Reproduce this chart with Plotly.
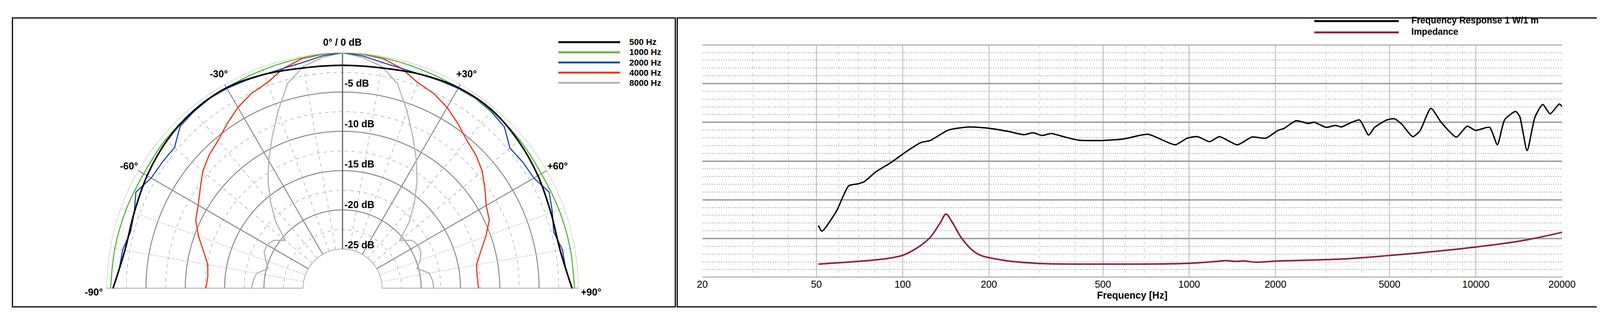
import plotly.graph_objects as go

# ---------------- data ----------------
ang10 = [-90, -80, -70, -60, -50, -40, -30, -20, -10, 0, 10, 20, 30, 40, 50, 60, 70, 80, 90]
ang5 = list(range(-90, 95, 5))
db_500 = [-0.8, -1.9, -1.8, -1.3, -0.8, -0.5, -0.5, -1.0, -1.5, -1.6, -1.5, -1.0, -0.5, -0.4, -0.8, -1.3, -1.8, -1.9, -0.8]
db_1000 = [-0.5, -0.6, -0.7, -0.8, -0.6, -0.5, -0.5, -0.4, -0.2, 0.0, -0.2, -0.4, -0.5, -0.5, -0.6, -0.8, -0.7, -0.6, -0.5]
db_2000 = [-0.8, -1.5, -1.6, -2.1, -1.8, -1.0, -1.9, -2.0, -2.1, -0.8, -0.6, -0.5, -0.6, -0.8, -1.0, -1.0, -0.8, -0.3, 0.0,
           -0.3, -0.8, -1.0, -1.0, -0.8, -0.6, -0.5, -0.6, -0.9, -2.2, -2.0, -1.9, -1.0, -1.6, -2.2, -1.6, -1.5, -0.8]
db_4000 = [-12.6, -12.8, -12.6, -11.7, -10.5, -9.4, -8.8, -7.9, -6.8, -6.0, -5.4, -4.4, -3.4, -2.6, -2.1, -1.0, -0.3, -0.1, 0.0,
           -0.1, -0.3, -1.0, -2.1, -2.6, -3.4, -4.4, -5.4, -6.0, -6.8, -7.9, -8.9, -9.4, -10.6, -11.8, -12.7, -12.8, -12.7]
db_8000 = [-18.4, -18.6, -18.9, -20.2, -19.6, -19.0, -18.9, -19.3, -20.5, -18.0, -15.8, -13.5, -11.2, -8.8, -6.0, -3.0, -1.3, -0.5, 0.0,
           -0.5, -1.3, -3.0, -6.0, -8.8, -11.2, -13.5, -15.8, -18.0, -20.5, -19.3, -18.9, -19.0, -19.5, -20.2, -18.8, -18.5, -18.4]
polar_names = ["500 Hz", "1000 Hz", "2000 Hz", "4000 Hz", "8000 Hz"]
polar_colors = ["#000000", "#5cb847", "#1f4fa8", "#f0321e", "#b4b4b4"]

fr_freq = [50.8, 52.3, 58.8, 64.8, 69.7, 73.2, 80.6, 91, 102.8, 116, 124.8, 144.5, 171, 203, 235, 265, 285, 307, 330, 364,
           410, 499, 590, 718, 893, 984, 1069, 1178, 1274, 1473, 1655, 1851, 2039, 2140, 2362, 2602, 2730, 3008, 3236, 3398,
           3567, 3930, 4226, 4437, 4888, 5206, 5518, 6025, 6385, 6970, 7570, 8550, 9330, 9985, 11170, 11890, 12620, 13770,
           14230, 15100, 16080, 17130, 18170, 19550, 20000]
fr_spl = [13.4, 11.9, 17.1, 23.6, 24.1, 24.6, 27.2, 29.6, 32.4, 34.8, 35.3, 38.0, 38.8, 38.4, 37.6, 36.8, 37.3, 36.6, 37.1, 36.3,
          35.4, 35.3, 35.7, 36.9, 34.2, 35.9, 36.3, 35.0, 36.3, 34.2, 36.2, 35.9, 37.9, 38.4, 40.4, 39.7, 40.0, 38.7, 39.2, 38.8,
          39.5, 40.6, 36.7, 38.7, 40.6, 40.9, 39.5, 36.3, 37.8, 43.6, 40.0, 36.2, 39.0, 37.9, 38.7, 34.2, 40.7, 42.8,
          41.5, 32.7, 41.3, 44.6, 42.2, 44.7, 44.1]
imp_freq = [50.8, 69.7, 87.6, 100.4, 113, 124.8, 135.6, 141.6, 149, 161.7, 182, 220, 292, 470, 1000, 1253, 1347, 1447, 1554,
            1710, 2055, 3398, 4960, 7036, 10000, 14650, 20000]
imp_val = [3.4, 4.1, 4.8, 5.7, 7.7, 10.3, 14.2, 16.3, 14.2, 9.8, 6.1, 4.5, 3.6, 3.4, 3.6, 4.1, 4.3, 4.1, 4.2,
           3.9, 4.2, 4.7, 5.6, 6.6, 7.8, 9.5, 11.6]
x_ticks = [20, 50, 100, 200, 500, 1000, 2000, 5000, 10000, 20000]
x_minor = [30, 40, 60, 70, 80, 90, 300, 400, 600, 700, 800, 900, 3000, 4000, 6000, 7000, 8000, 9000]
ring_db = [-22.5, -20, -17.5, -15, -12.5, -10, -7.5, -5, -2.5]
spoke_deg = [-80, -70, -60, -50, -40, -30, -20, -10, 10, 20, 30, 40, 50, 60, 70, 80]

W, H = 4185, 812
FONT = "Liberation Sans"
fig = go.Figure()

# polar grid
arc = list(range(-90, 91, 2))
for r in ring_db:
    solid = (r % 5 == 0)
    fig.add_trace(go.Scatterpolar(r=[r] * len(arc), theta=arc, mode="lines", showlegend=False, hoverinfo="skip",
                                  line=dict(color="#8a8a8a" if solid else "#a8a8a8", width=2.5 if solid else 1.4,
                                            dash="solid" if solid else "dash")))
for r, c, w in [(0, "#9a9a9a", 1.5), (-25, "#8a8a8a", 2.5)]:
    fig.add_trace(go.Scatterpolar(r=[r] * len(arc), theta=arc, mode="lines", showlegend=False, hoverinfo="skip",
                                  line=dict(color=c, width=w)))
for a in spoke_deg:
    if abs(a) in (30, 60):
        st = dict(color="#8a8a8a", width=2.5, dash="solid")
    elif abs(a) in (70, 80):
        st = dict(color="#a8a8a8", width=1.4, dash="dot")
    else:
        st = dict(color="#a8a8a8", width=1.4, dash="dash")
    fig.add_trace(go.Scatterpolar(r=[-25, 0], theta=[a, a], mode="lines", showlegend=False, hoverinfo="skip", line=st))
for a in (-90, 90, 0):
    fig.add_trace(go.Scatterpolar(r=[-25, 0], theta=[a, a], mode="lines", showlegend=False, hoverinfo="skip",
                                  line=dict(color="#8a8a8a" if a else "#666666", width=3)))

# polar curves (draw 8000 first)
series = [(ang10, db_500, "spline"), (ang10, db_1000, "spline"), (ang5, db_2000, "linear"),
          (ang5, db_4000, "linear"), (ang5, db_8000, "linear")]
for i in [4, 3, 2, 1, 0]:
    th, rr, sh = series[i]
    fig.add_trace(go.Scatterpolar(r=rr, theta=th, mode="lines", showlegend=False, name=polar_names[i],
                                  line=dict(color=polar_colors[i], width=4 if i == 0 else 3, shape=sh)))

# frequency response
fig.add_trace(go.Scatter(x=imp_freq, y=imp_val, mode="lines", xaxis="x", yaxis="y", showlegend=False,
                         line=dict(color="#8e2339", width=4, shape="spline")))
fig.add_trace(go.Scatter(x=fr_freq, y=fr_spl, mode="lines", xaxis="x", yaxis="y", showlegend=False,
                         line=dict(color="#000000", width=3.5, shape="spline", smoothing=0.6)))

px = lambda v: v / W
py = lambda v: 1 - v / H
ann = []
def T(x, y, s, size=25, xa="center"):
    ann.append(dict(x=px(x), y=py(y), xref="paper", yref="paper", text="<b>%s</b>" % s, showarrow=False,
                    xanchor=xa, yanchor="middle", font=dict(family=FONT, size=size, color="#000")))

T(865, 100, "0° / 0 dB")
for i, lab in enumerate(["-5 dB", "-10 dB", "-15 dB", "-20 dB", "-25 dB"]):
    T(868, 205 + i * 103.5, lab, xa="left")
for x, y, s in [(544, 181, "-30°"), (1186, 181, "+30°"), (312, 417, "-60°"), (1422, 417, "+60°"),
                (221, 740, "-90°"), (1509, 740, "+90°")]:
    T(x, y, s)
shapes = []
for i, (n, c) in enumerate(zip(polar_names, polar_colors)):
    y = 100 + i * 26
    shapes.append(dict(type="line", xref="paper", yref="paper", x0=px(1424), x1=px(1584), y0=py(y), y1=py(y),
                       line=dict(color=c, width=5)))
    T(1606, y, n, size=22, xa="left")
for n, c, y in [("Frequency Response 1 W/1 m", "#000", 46), ("Impedance", "#8e2339", 75)]:
    shapes.append(dict(type="line", xref="paper", yref="paper", x0=px(3382), x1=px(3601), y0=py(y), y1=py(y),
                       line=dict(color=c, width=5)))
    T(3632, y - 2, n, size=23, xa="left")
for x0, x1 in [(10, 1727), (1732, 4172)]:
    shapes.append(dict(type="rect", xref="paper", yref="paper", x0=px(x0), x1=px(x1), y0=py(38), y1=py(778),
                       line=dict(color="#000", width=3)))
for yv in (0, 60):
    shapes.append(dict(type="line", xref="x domain", yref="y", x0=0, x1=1, y0=yv, y1=yv, layer="below",
                       line=dict(color="#a5a5a5", width=3.5)))

fig.update_layout(
    width=W, height=H, margin=dict(l=0, r=0, t=0, b=0), paper_bgcolor="white", plot_bgcolor="white",
    showlegend=False, annotations=ann, shapes=shapes,
    polar=dict(domain=dict(x=[px(254), px(1476)], y=[py(740), py(118)]), sector=[0, 180], hole=1 / 6,
               bgcolor="white",
               radialaxis=dict(range=[-25, 0], visible=False, showgrid=False),
               angularaxis=dict(rotation=90, direction="clockwise", visible=False, showgrid=False)),
    xaxis=dict(type="log", domain=[px(1797), px(4024)], range=[1.30103, 4.30103], tickvals=x_ticks,
               ticktext=[str(v) for v in x_ticks], tickfont=dict(family=FONT, size=25, color="#000"),
               showgrid=True, gridcolor="#b5b5b5", gridwidth=1.5, ticks="", zeroline=False,
               title=dict(text="<b>Frequency [Hz]</b>", font=dict(family=FONT, size=25, color="#000"), standoff=4),
               tickprefix="<b>", ticksuffix="</b>",
               minor=dict(tickvals=x_minor, showgrid=True, gridcolor="#b5b5b5", griddash="dash", gridwidth=1.2),
               anchor="y", showline=False),
    yaxis=dict(domain=[py(703), py(106)], range=[-0.08, 60.08], tickvals=[0, 10, 20, 30, 40, 50, 60], showticklabels=False,
               showgrid=True, gridcolor="#a5a5a5", gridwidth=3.5, zeroline=False, ticks="",
               minor=dict(dtick=2, showgrid=True, gridcolor="#b0b0b0", griddash="dot", gridwidth=1.5),
               anchor="x"),
)
fig.write_html("out.html")
